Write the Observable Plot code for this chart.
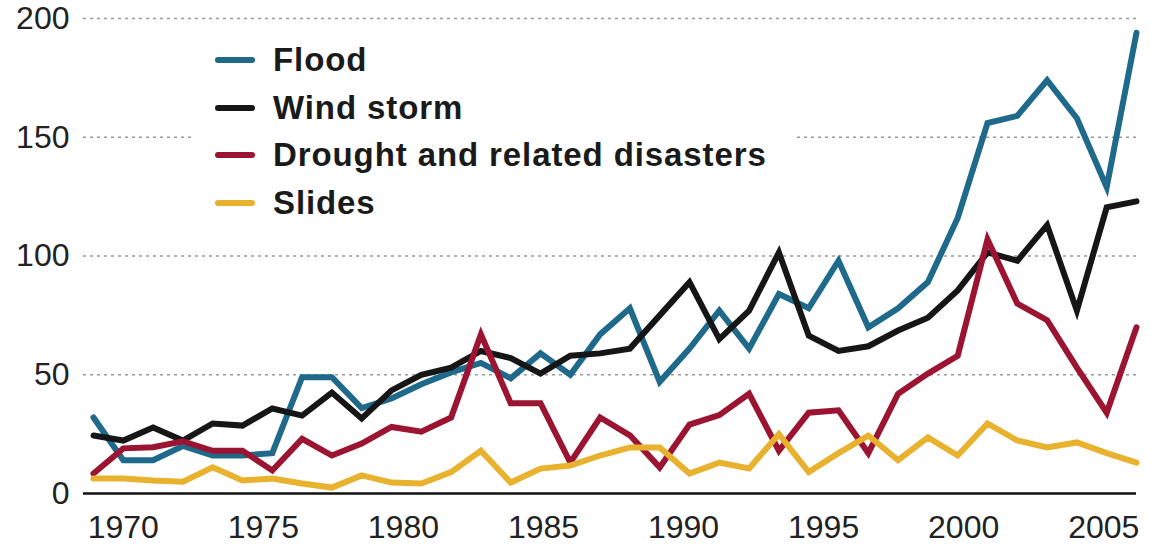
<!DOCTYPE html>
<html>
<head>
<meta charset="utf-8">
<script src="https://cdn.jsdelivr.net/npm/d3@7"></script>
<script src="https://cdn.jsdelivr.net/npm/@observablehq/plot@0.6"></script>
<style>
  html, body { margin: 0; padding: 0; background: #fff; }
  #wrap { position: relative; width: 1151px; height: 545px; font-family: "Liberation Sans", Arial, Helvetica, sans-serif; }
  #legend { position: absolute; left: 195px; top: 32px; width: 600px; height: 196px; background: #fff; }
  .row { position: absolute; left: 20px; height: 40px; display: flex; align-items: center; }
  .sw { width: 40px; height: 6px; border-radius: 3px; margin-right: 18px; }
  .lab { font-weight: bold; font-size: 33px; letter-spacing: 0.9px; color: #1a1a1a; white-space: nowrap; }
</style>
</head>
<body>
<div id="wrap"></div>
<script>
// ---- data ----
const years = [1970,1971,1972,1973,1974,1975,1976,1977,1978,1979,1980,1981,1982,1983,1984,1985,1986,1987,1988,1989,1990,1991,1992,1993,1994,1995,1996,1997,1998,1999,2000,2001,2002,2003,2004,2005];
const flood   = [32,14,14,20,16,16,17,49,49,36,40,46,51,55,48.5,59,50,67,78,47,61,77,61,84,78,98,70,78,89,116,156,159,174,158,129,194];
const wind    = [24.4,22.3,27.8,22.3,29.5,28.6,35.8,32.8,42.5,31.6,43.4,50,53,60,57,50.5,58,59,61,75,89,65,77,101.5,66.5,60,62,68.6,74,85.5,101.5,98,113,77,120.5,123];
const drought = [8.4,19,19.5,22,18,18,9.7,23,16,21,28,26,32,67,38,38,13,32,24.5,11,29,33,42,18,34,35,17,42,50.5,58,107,80,73,53,34,70];
const slides  = [6.3,6.3,5.5,5,11,5.5,6.3,4.2,2.5,7.6,4.6,4.2,9,18,4.6,10.5,11.8,16,19.4,19.4,8.4,13,10.5,25,9,17,24.4,14,23.6,16,29.5,22.3,19.4,21.5,17,13];
const seriesNames = ["Flood", "Wind storm", "Drought and related disasters", "Slides"];
const seriesColors = ["#1f6a8b", "#161616", "#9b1431", "#e8b12e"];
const yTicks = [0, 50, 100, 150, 200];
const xTickLabels = [1970, 1975, 1980, 1985, 1990, 1995, 2000, 2005];

// the printed year labels sit on a slightly compressed scale relative to the data points
const labelPos = d3.scaleLinear([1970, 2005], [1971, 2003.9]);

const allSeries = [flood, wind, drought, slides];
const rows = allSeries.map((vals, s) => years.map((yr, i) => ({year: yr, value: vals[i], series: seriesNames[s]})));

const font = '"Liberation Sans", Arial, Helvetica, sans-serif';

const chart = Plot.plot({
  width: 1151,
  height: 545,
  marginLeft: 83,
  marginRight: 15,
  marginTop: 18,
  marginBottom: 52,
  insetLeft: 10,
  x: {domain: [1970, 2005], axis: null, label: null},
  y: {domain: [0, 200], axis: null, label: null},
  style: {fontFamily: font, fontSize: "32px", color: "#222", background: "#fff", overflow: "visible"},
  marks: [
    Plot.ruleY(yTicks.filter(v => v > 0), {stroke: "#9a9a9a", strokeWidth: 1.6, strokeDasharray: "3,4"}),
    Plot.axisY({ticks: yTicks, tickSize: 0, tickPadding: 14, fontSize: 32, fill: "#222", label: null}),
    Plot.axisX({ticks: xTickLabels.map(d => labelPos(d)), tickFormat: d => String(Math.round(labelPos.invert(d))), tickSize: 0, tickPadding: 22, fontSize: 32, fill: "#222", label: null}),
    ...rows.map((r, s) => Plot.line(r, {x: "year", y: "value", stroke: seriesColors[s], strokeWidth: 6, strokeLinejoin: "miter", strokeMiterlimit: 6})),
    Plot.ruleY([0], {stroke: "#111", strokeWidth: 2.5})
  ]
});

const wrap = document.getElementById("wrap");
wrap.appendChild(chart);

const legend = document.createElement("div");
legend.id = "legend";
const centers = [60, 107.5, 155, 203];
seriesNames.forEach((name, i) => {
  const row = document.createElement("div");
  row.className = "row";
  row.style.top = (centers[i] - 32 - 20) + "px";
  const sw = document.createElement("div");
  sw.className = "sw";
  sw.style.background = seriesColors[i];
  const lab = document.createElement("span");
  lab.className = "lab";
  lab.textContent = name;
  row.appendChild(sw);
  row.appendChild(lab);
  legend.appendChild(row);
});
wrap.appendChild(legend);
</script>
</body>
</html>
